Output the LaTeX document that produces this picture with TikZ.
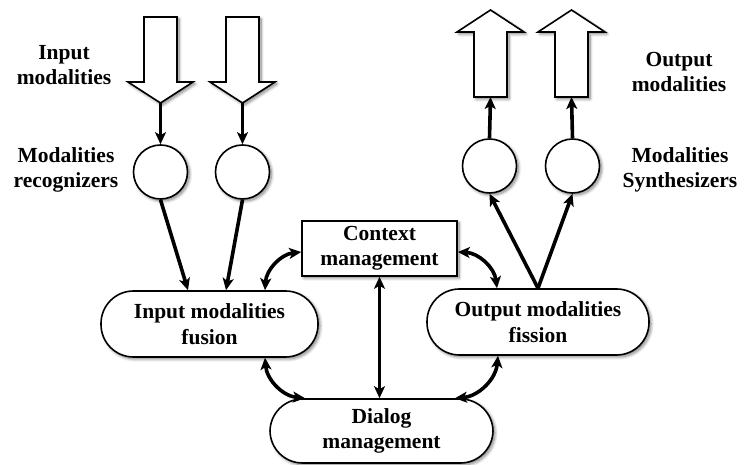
\documentclass[tikz,border=0pt]{standalone}
\usepackage{fontspec}
\setmainfont{Liberation Serif}
\usetikzlibrary{arrows.meta,calc,shadows.blur}
\begin{document}
\begin{tikzpicture}[x=1pt,y=1pt,
  every node/.style={font=\bfseries\fontsize{21.5}{25.5}\selectfont, align=center, inner sep=0pt},
  softshadow/.style={blur shadow={shadow xshift=2pt, shadow yshift=-2pt, shadow blur radius=3pt, shadow blur steps=8, shadow opacity=50}},
  outline/.style={draw=black, line width=1.6pt, fill=white},
  pill/.style={outline, softshadow, rectangle, rounded corners=32.5pt, minimum height=66pt},
  unit/.style={outline, softshadow, circle, minimum size=54pt},
  flow/.style={line width=3.6pt, -{Stealth[length=12pt,width=11pt,inset=3pt]}},
  link/.style={line width=3.6pt, {Stealth[length=12pt,width=11pt,inset=3pt]}-{Stealth[length=12pt,width=11pt,inset=3pt]}},
  pics/bigdown/.style={code={
    \filldraw[outline,softshadow] (-16.5,0) -- (16.5,0) -- (16.5,-65) -- (32.5,-65)
      -- (0,-86) -- (-32.5,-65) -- (-16.5,-65) -- cycle;
    \coordinate (-tip) at (0,-86);}},
  pics/bigup/.style={code={
    \filldraw[outline,softshadow] (-16.5,0) -- (16.5,0) -- (16.5,65) -- (33.5,65)
      -- (0,87) -- (-33.5,65) -- (-16.5,65) -- cycle;
    \coordinate (-base) at (0,0);}},
]
\useasboundingbox (0,0) rectangle (744,465);

% input side
\pic (ia1) at (160.5,448) {bigdown};
\pic (ia2) at (242.5,448) {bigdown};
\node[unit] (ic1) at (160.5,293) {};
\node[unit] (ic2) at (242.5,293) {};
\node (lblin) at (64,400) {Input\\modalities};
\node (lblrec) at (66,295) {Modalities\\recognizers};

% output side
\pic (oa1) at (490.5,368) {bigup};
\pic (oa2) at (571.5,368) {bigup};
\node[unit] (oc1) at (489.5,299) {};
\node[unit] (oc2) at (572.5,299) {};
\node (lblout) at (679,393) {Output\\modalities};
\node (lblsyn) at (680,295) {Modalities\\Synthesizers};

% processing blocks
\node[pill, minimum width=217pt] (fusion) at (209.5,141) {Input modalities\\fusion};
\node[pill, minimum width=222pt] (fission) at (538,143) {Output modalities\\fission};
\node[pill, minimum width=223pt, minimum height=64pt] (dialog) at (381.5,34) {Dialog\\management};
\node[outline, softshadow, minimum width=155pt, minimum height=55pt] (context) at (379.5,216.5) {Context\\management};

% data flow
\draw[flow] (ia1-tip) -- (ic1.north);
\draw[flow] (ia2-tip) -- (ic2.north);
\draw[flow] (ic1.south) -- ($(fusion.north)+(-21.5,0)$);
\draw[flow] (ic2.south) -- ($(fusion.north)+(16.5,0)$);
\draw[flow] (oc1.north) -- (oa1-base);
\draw[flow] (oc2.north) -- (oa2-base);
\draw[flow] (fission.north) -- (oc1.south);
\draw[flow] (fission.north) -- (oc2.south);

% exchanges between blocks
\draw[link] ($(fusion.north)+(55.5,0)$) to[bend left=40] ($(context.west)+(0,-3.5)$);
\draw[link] ($(context.east)+(0,-3.5)$) to[bend left=40] ($(fission.north)+(-41,0)$);
\draw[link] ($(fusion.south)+(55.5,0)$) to[bend right=40] ($(dialog.north)+(-76.5,0)$);
\draw[link] ($(fission.south)+(-40,0)$) to[bend left=40] ($(dialog.north)+(73.5,0)$);
\draw[link] (context.south) -- (context.south |- dialog.north);
\end{tikzpicture}
\end{document}
